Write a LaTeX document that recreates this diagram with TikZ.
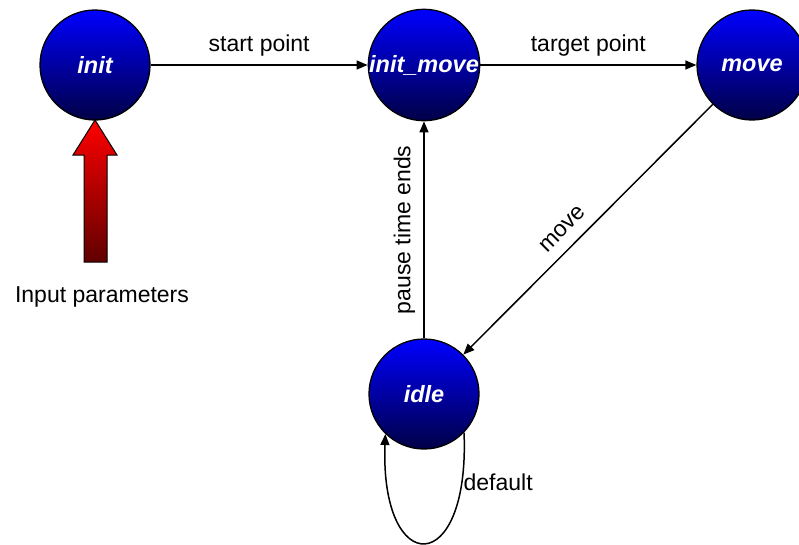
\documentclass[tikz,border=0pt]{standalone}
\usepackage{fontspec}
\setmainfont{Liberation Sans}
\usetikzlibrary{arrows.meta}
\definecolor{stateTop}{RGB}{0,0,255}
\definecolor{stateMid}{RGB}{0,0,205}
\definecolor{stateBottom}{RGB}{0,0,70}
\definecolor{inTop}{RGB}{255,0,0}
\definecolor{inBottom}{RGB}{96,0,0}
\tikzset{
  state/.style={circle, draw=black, line width=1.3pt, minimum size=110pt, inner sep=0pt,
    top color=stateTop, middle color=stateMid, bottom color=stateBottom, text=white,
    font=\fontsize{23.5}{27}\selectfont\bfseries\itshape},
  trans/.style={line width=1.5pt, -{Triangle[length=11pt,width=9pt]}},
  lbl/.style={font=\fontsize{23}{27}\selectfont, text=black, inner sep=2pt},
  inarrow/.style={draw=black, line width=1pt, top color=inTop, bottom color=inBottom}
}
\begin{document}
\begin{tikzpicture}[x=1pt, y=-1pt]
  \useasboundingbox (0,0) rectangle (799,544);

  % states
  \node[state] (init)     at (95,65)  {init};
  \node[state] (initmove) at (424,65) {init\_move};
  \node[state] (move)     at (752,65) {move};
  \node[state] (idle)     at (424,394) {idle};

  % input arrow into the init state
  \coordinate (tip) at (95,120);
  \path[inarrow] (tip) -- (117,155) -- (107,155) -- (107,262) -- (84,262)
        -- (84,155) -- (73,155) -- cycle;
  \node[lbl] (inputs) at (102,297) {Input parameters};

  % transitions
  \draw[trans] (init) -- node[lbl, above=6pt] {start point} (initmove);
  \draw[trans] (initmove) -- node[lbl, above=6pt] {target point} (move);
  \draw[trans] (move) -- node[lbl, pos=0.55, above=9pt, sloped] {move} (idle);
  \draw[trans] (idle) -- node[lbl, midway, above=6pt, sloped] {pause time ends} (initmove);

  % self loop on idle
  \draw[trans] (idle.-44) .. controls (470,579) and (380,579) .. node[lbl, pos=0.13, anchor=west, inner sep=1pt] {default} (idle.-134);
\end{tikzpicture}
\end{document}
